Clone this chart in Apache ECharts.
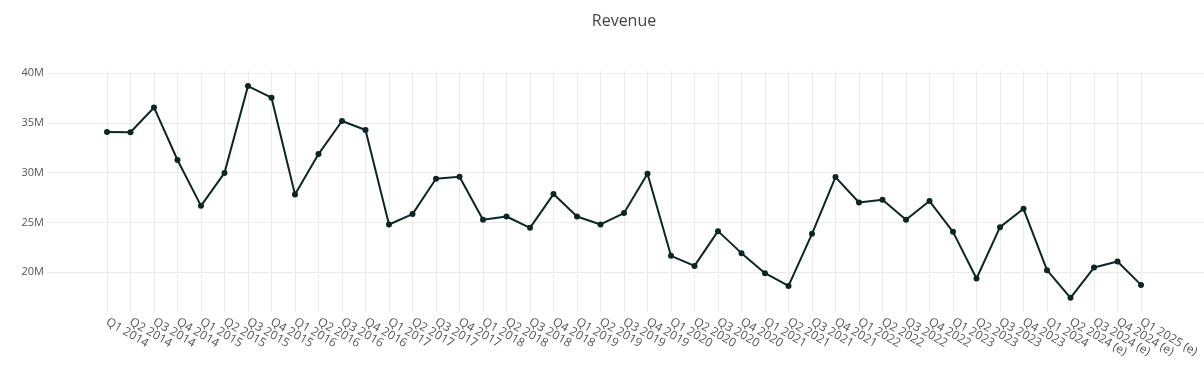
<!DOCTYPE html>
<html>
<head>
<meta charset="utf-8">
<script src="https://cdn.jsdelivr.net/npm/echarts@6/dist/echarts.min.js"></script>
<style>
html,body{margin:0;padding:0;background:#fff;}
#chart{width:1204px;height:372px;}
</style>
</head>
<body>
<div id="chart"></div>
<script>
const categories = [
  'Q1 2014','Q2 2014','Q3 2014','Q4 2014',
  'Q1 2015','Q2 2015','Q3 2015','Q4 2015',
  'Q1 2016','Q2 2016','Q3 2016','Q4 2016',
  'Q1 2017','Q2 2017','Q3 2017','Q4 2017',
  'Q1 2018','Q2 2018','Q3 2018','Q4 2018',
  'Q1 2019','Q2 2019','Q3 2019','Q4 2019',
  'Q1 2020','Q2 2020','Q3 2020','Q4 2020',
  'Q1 2021','Q2 2021','Q3 2021','Q4 2021',
  'Q1 2022','Q2 2022','Q3 2022','Q4 2022',
  'Q1 2023','Q2 2023','Q3 2023','Q4 2023',
  'Q1 2024','Q2 2024 (e)','Q3 2024 (e)','Q4 2024 (e)','Q1 2025 (e)'
];
// Revenue in millions
const revenueM = [
  34.07, 34.05, 36.54, 31.26,
  26.66, 29.97, 38.69, 37.52,
  27.80, 31.86, 35.18, 34.27,
  24.79, 25.83, 29.38, 29.58,
  25.26, 25.59, 24.45, 27.84,
  25.59, 24.79, 25.93, 29.88,
  21.64, 20.63, 24.12, 21.91,
  19.90, 18.62, 23.85, 29.55,
  27.00, 27.27, 25.26, 27.14,
  24.05, 19.36, 24.52, 26.36,
  20.20, 17.42, 20.46, 21.07, 18.72
];
const yTicks = [20e6, 25e6, 30e6, 35e6, 40e6];

const revenue = revenueM.map(v => v * 1e6);
const Y_MIN = 16e6, Y_MAX = 40.2e6;

const FONT = '"Open Sans", "DejaVu Sans", sans-serif';
const chart = echarts.init(document.getElementById('chart'), null, {renderer: 'canvas'});
chart.setOption({
  animation: false,
  backgroundColor: '#fff',
  title: {
    text: 'Revenue',
    left: 619,
    top: 8,
    textAlign: 'center',
    textStyle: {fontFamily: FONT, fontSize: 16, fontWeight: 'normal', color: '#444'}
  },
  grid: [
    {left: 47, right: 0, top: 71, bottom: 60, containLabel: false},
    {left: 107, right: 63, top: 71, bottom: 60, containLabel: false}
  ],
  xAxis: [
    {
      type: 'value', gridIndex: 0, min: 0, max: 1, show: false
    },
    {
      type: 'category',
      gridIndex: 1,
      data: categories,
      boundaryGap: false,
      axisLine: {show: false},
      axisTick: {show: false},
      splitLine: {show: true, interval: 0, lineStyle: {color: '#ebebeb', width: 1}},
      axisLabel: {
        interval: 0,
        rotate: -30,
        margin: 9,
        color: '#555',
        fontFamily: FONT,
        fontSize: 12
      }
    }
  ],
  yAxis: [
    {
      type: 'value',
      gridIndex: 0,
      min: Y_MIN,
      max: Y_MAX,
      axisLine: {show: false},
      axisTick: {show: false, customValues: yTicks},
      splitLine: {show: true, lineStyle: {color: '#ebebeb', width: 1}},
      axisLabel: {
        customValues: yTicks,
        showMinLabel: true,
        showMaxLabel: true,
        margin: 3,
        color: '#555',
        fontFamily: FONT,
        fontSize: 11,
        formatter: v => (v / 1e6) + 'M'
      }
    },
    {
      type: 'value',
      gridIndex: 1,
      min: Y_MIN,
      max: Y_MAX,
      show: false,
      splitLine: {show: false}
    }
  ],
  series: [{
    type: 'line',
    xAxisIndex: 1,
    yAxisIndex: 1,
    data: revenue,
    symbol: 'circle',
    symbolSize: 6,
    showAllSymbol: true,
    lineStyle: {color: '#0c2626', width: 2},
    itemStyle: {color: '#0c2626'}
  }]
});
</script>
</body>
</html>
